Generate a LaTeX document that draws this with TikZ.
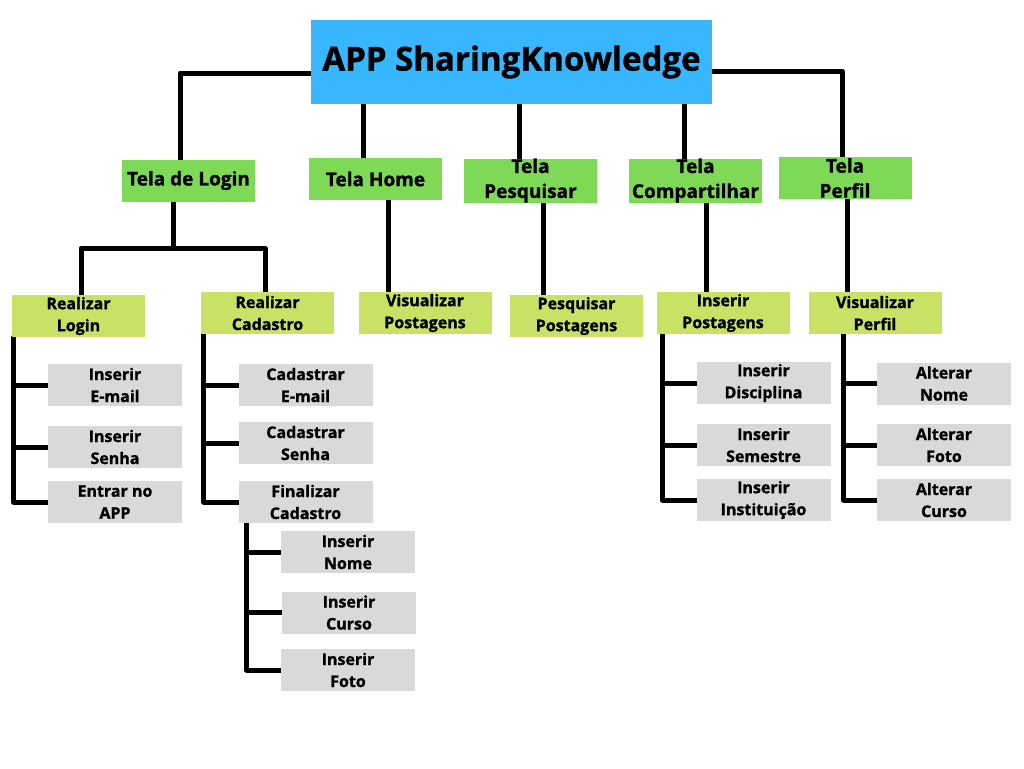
\documentclass[tikz,border=0pt]{standalone}
\usepackage{fontspec}
\setmainfont{Open Sans}[BoldFeatures={FakeBold=1.2}]
\usetikzlibrary{backgrounds}
\definecolor{azul}{HTML}{38B6FF}
\definecolor{verde}{HTML}{7ED957}
\definecolor{lima}{HTML}{C9E265}
\definecolor{cinza}{HTML}{D9D9D9}
\begin{document}
\begin{tikzpicture}[x=1pt,y=1pt,
	raiz/.style={fill=azul,minimum width=401,minimum height=84,inner sep=0,font=\fontsize{33}{38}\selectfont\bfseries},
	tela/.style={fill=verde,minimum width=133,minimum height=42,inner sep=0,align=center,font=\fontsize{19}{25}\selectfont\bfseries},
	acao/.style={fill=lima,minimum width=133,minimum height=42,inner sep=0,align=center,font=\fontsize{16}{22}\selectfont\bfseries},
	item/.style={fill=cinza,minimum width=134,minimum height=42,inner sep=0,align=center,font=\fontsize{16}{22}\selectfont\bfseries},
	liga/.style={line width=5pt,line cap=round,line join=round}]
	\useasboundingbox (0,0) rectangle (1024,-768);
	\node[raiz] (root) at (511.5,-62) {APP SharingKnowledge};
	% telas
	\node[tela] (login) at (188.5,-180.5) {Tela de Login};
	\node[tela] (home) at (375.5,-179) {Tela Home};
	\node[tela] (tpesq) at (530.5,-180.5) {Tela\\Pesquisar};
	\node[tela] (tcomp) at (695.5,-180.5) {Tela\\Compartilhar};
	\node[tela] (tperf) at (845,-178) {Tela\\Perfil};
	% acoes
	\node[acao] (rlogin) at (78.5,-316) {Realizar\\Login};
	\node[acao] (rcad) at (267.5,-313) {Realizar\\Cadastro};
	\node[acao] (vpost) at (425,-313) {Visualizar\\Postagens};
	\node[acao] (ppost) at (576.5,-316) {Pesquisar\\Postagens};
	\node[acao] (ipost) at (723,-313) {Inserir\\Postagens};
	\node[acao] (vperf) at (875,-313) {Visualizar\\Perfil};
	% itens
	\node[item] (email) at (115,-385) {Inserir\\E-mail};
	\node[item] (senha) at (115,-447) {Inserir\\Senha};
	\node[item] (entrar) at (115,-502) {Entrar no\\APP};
	\node[item] (cemail) at (305.5,-385) {Cadastrar\\E-mail};
	\node[item] (csenha) at (305.5,-443) {Cadastrar\\Senha};
	\node[item] (final) at (305.5,-502) {Finalizar\\Cadastro};
	\node[item] (nome) at (348,-552) {Inserir\\Nome};
	\node[item] (curso) at (349,-612.5) {Inserir\\Curso};
	\node[item] (foto) at (348,-670) {Inserir\\Foto};
	\node[item] (disc) at (763.5,-383) {Inserir\\Disciplina};
	\node[item] (sem) at (763.5,-445) {Inserir\\Semestre};
	\node[item] (inst) at (763.5,-500) {Inserir\\Instituição};
	\node[item] (anome) at (944,-383.5) {Alterar\\Nome};
	\node[item] (afoto) at (944,-445) {Alterar\\Foto};
	\node[item] (acurso) at (944,-500) {Alterar\\Curso};
	\begin{scope}[on background layer]
		\fill[white] (0,0) rectangle (1024,-768);
		\draw[liga] ([yshift=-11]root.west) -| ([xshift=-8.5]login.north);
		\draw[liga] ([yshift=-9]root.east) -| ([xshift=-3]tperf.north);
		\draw[liga] ([xshift=-148.5]root.south) -- ([xshift=-12.5]home.north);
		\draw[liga] ([xshift=7.5]root.south) -- ([xshift=-11.5]tpesq.north);
		\draw[liga] ([xshift=172.5]root.south) -- ([xshift=-11.5]tcomp.north);
		\coordinate (lj) at (173,-248);
		\draw[liga] ([xshift=-15.5]login.south) -- (lj);
		\draw[liga] ([xshift=2.5]rlogin.north) |- (lj) -| ([xshift=-2.5]rcad.north);
		\draw[liga] ([xshift=12.5]home.south) -- ([xshift=-37]vpost.north);
		\draw[liga] ([xshift=12.5]tpesq.south) -- ([xshift=-33.5]ppost.north);
		\draw[liga] ([xshift=10.5]tcomp.south) -- ([xshift=-17]ipost.north);
		\draw[liga] ([xshift=2]tperf.south) -- ([xshift=-28]vperf.north);
		\foreach \pai/\dx/\a/\b/\c in {rlogin/2/email/senha/entrar,rcad/3/cemail/csenha/final,final/8/nome/curso/foto,ipost/6/disc/sem/inst,vperf/35/anome/afoto/acurso}{
			\coordinate (bar) at ([xshift=\dx]\pai.south west);
			\draw[liga] (bar) |- (\c.west);
			\draw[liga] (\a.west) -- (\a.west -| bar);
			\draw[liga] (\b.west) -- (\b.west -| bar);
		}
	\end{scope}
\end{tikzpicture}
\end{document}
